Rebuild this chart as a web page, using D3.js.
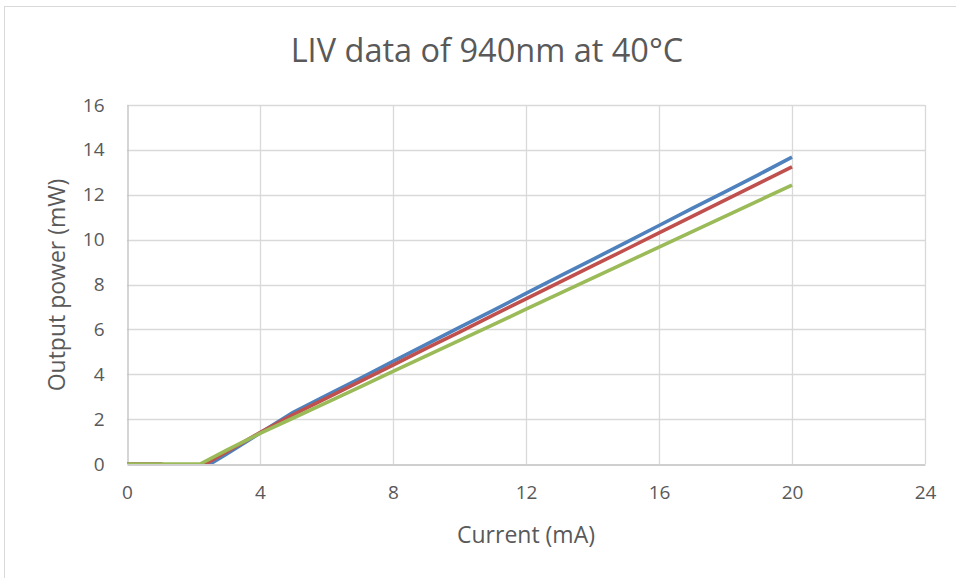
<!DOCTYPE html>
<html><head><meta charset="utf-8">
<script src="https://cdn.jsdelivr.net/npm/d3@7"></script>
<style>body{margin:0;background:#fff}svg{display:block}</style>
</head><body><svg id="c" width="956" height="578"></svg>
<script>
const currents = [0,1,2,2.2,3,4,5,6,7,8,9,10,11,12,13,14,15,16,17,18,19,20];
const blueVals = [0,0,-0.45,-0.27,0.45,1.38,2.3,3.06,3.81,4.57,5.33,6.09,6.84,7.60,8.36,9.11,9.87,10.63,11.39,12.14,12.90,13.68];
const redVals  = [0,0,-0.3,-0.13,0.55,1.4,2.2,2.94,3.67,4.41,5.15,5.88,6.62,7.36,8.09,8.83,9.56,10.30,11.04,11.77,12.51,13.24];
const greenVals= [0,0,0,0,0.62,1.36,2.05,2.74,3.43,4.13,4.82,5.51,6.20,6.90,7.59,8.28,8.97,9.67,10.36,11.05,11.74,12.43];
const xTicks = [0,4,8,12,16,20,24];
const yTicks = [0,2,4,6,8,10,12,14,16];
const series = [
  {name:"blue", vals: blueVals, color:"#4f81bd"},
  {name:"red", vals: redVals, color:"#c0504d"},
  {name:"green", vals: greenVals, color:"#9bbb59"}
];
const svg = d3.select("#c");
const font = "'Open Sans', sans-serif";
svg.append("rect").attr("x",4.5).attr("y",6.5).attr("width",970).attr("height",600)
  .attr("fill","#fff").attr("stroke","#d9d9d9");
const x = d3.scaleLinear().domain([0,24]).range([127,925]);
const y = d3.scaleLinear().domain([0,16]).range([464,105]);
// gridlines
svg.append("g").selectAll("line").data(yTicks.filter(d=>d>0)).join("line")
  .attr("x1",x(0)).attr("x2",x(24)).attr("y1",d=>Math.round(y(d))+0.5).attr("y2",d=>Math.round(y(d))+0.5)
  .attr("stroke","#d9d9d9").attr("stroke-width",1.3);
svg.append("g").selectAll("line").data(xTicks.filter(d=>d>0)).join("line")
  .attr("y1",y(0)).attr("y2",y(16)).attr("x1",d=>Math.round(x(d))+0.5).attr("x2",d=>Math.round(x(d))+0.5)
  .attr("stroke","#d9d9d9").attr("stroke-width",1.3);
// axes
const xAxis = d3.axisBottom(x).tickValues(xTicks).tickSize(0).tickPadding(21);
const gx = svg.append("g").attr("transform",`translate(0,${Math.round(y(0))+0.5})`).call(xAxis);
gx.select(".domain").attr("stroke","#bfbfbf").attr("stroke-width",1.3);
gx.selectAll("text").attr("font-family",font).attr("font-size",19).attr("fill","#595959");
const yAxis = d3.axisLeft(y).tickValues(yTicks).tickSize(0).tickPadding(23);
const gy = svg.append("g").attr("transform",`translate(${Math.round(x(0))+0.5},0)`).call(yAxis);
gy.select(".domain").attr("stroke","#bfbfbf").attr("stroke-width",1.3);
gy.selectAll("text").attr("font-family",font).attr("font-size",19).attr("fill","#595959");
// clip
svg.append("clipPath").attr("id","clip").append("rect")
  .attr("x",x(0)).attr("y",y(16)-5).attr("width",x(24)-x(0)).attr("height",y(0)-y(16)+5);
const line = d3.line().x((d,i)=>x(currents[i])).y(d=>y(d));
svg.append("g").attr("clip-path","url(#clip)").selectAll("path").data(series).join("path")
  .attr("d",d=>line(d.vals)).attr("fill","none").attr("stroke",d=>d.color)
  .attr("stroke-width",3.6).attr("stroke-linejoin","round");
// titles
svg.append("text").attr("x",487).attr("y",62).attr("text-anchor","middle")
  .attr("font-family",font).attr("font-size",32.5).attr("fill","#595959").text("LIV data of 940nm at 40°C");
svg.append("text").attr("x",526).attr("y",543).attr("text-anchor","middle")
  .attr("font-family",font).attr("font-size",23).attr("fill","#595959").text("Current (mA)");
svg.append("text").attr("transform","translate(65,285) rotate(-90)").attr("text-anchor","middle")
  .attr("font-family",font).attr("font-size",23).attr("fill","#595959").text("Output power (mW)");
</script></body></html>
